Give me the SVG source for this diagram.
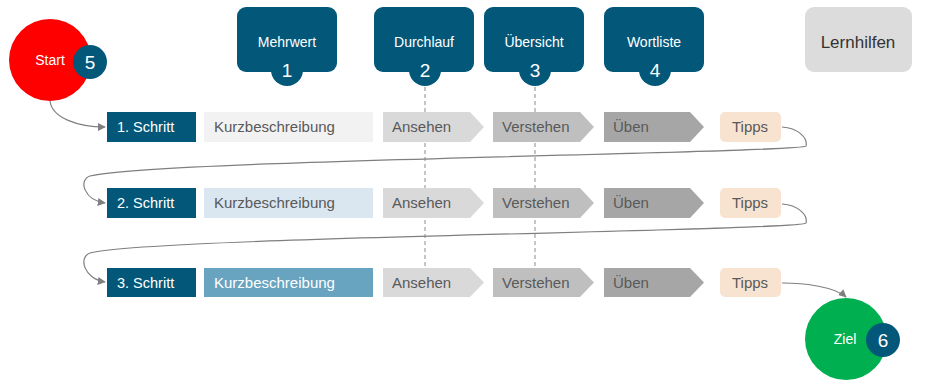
<svg xmlns="http://www.w3.org/2000/svg" width="925" height="391" viewBox="0 0 925 391">
<style>
text{font-family:"Liberation Sans",Arial,sans-serif}
.blue{fill:#03587a}
.wt{fill:#fff;font-size:14px;text-anchor:middle}
.num{fill:#fff;font-size:19px;text-anchor:middle}
.step{fill:#fff;font-size:14.5px}
.gt{fill:#595959;font-size:15px}
.con{fill:none;stroke:#7f7f7f;stroke-width:1.2}
.dash{stroke:#8c8c8c;stroke-width:1;stroke-dasharray:4 3}
</style>
<defs>
<marker id="arr" viewBox="0 0 10 10" refX="9" refY="5" markerWidth="8" markerHeight="8" markerUnits="userSpaceOnUse" orient="auto"><path d="M0,0 L10,5 L0,10 Z" fill="#7f7f7f"/></marker>
</defs>
<g id="dashes">
<line class="dash" x1="425" y1="87" x2="425" y2="268"/>
<line class="dash" x1="535" y1="87" x2="535" y2="268"/>
</g>
<g id="connectors">
<path class="con" d="M50,101 C52,118 78,127 105,127" marker-end="url(#arr)"/>
<path class="con" d="M782,127 C798,128 808,138 806,146 C803,153 150,160 90,176 C78,180 84,200 105,203" marker-end="url(#arr)"/>
<path class="con" d="M782,204 C798,205 808,215 806,223 C803,231 150,237 90,253 C78,257 84,279 105,282" marker-end="url(#arr)"/>
<path class="con" d="M782,283 C805,283 835,287 846,297" marker-end="url(#arr)"/>
</g>
<g id="start">
<circle cx="50" cy="60" r="41" fill="#ff0000"/>
<text class="wt" x="50" y="65">Start</text>
<circle class="blue" cx="90" cy="62" r="17"/>
<text class="num" x="90" y="69">5</text>
</g>
<g id="mehrwert">
<rect class="blue" x="237" y="7" width="100" height="65" rx="9"/>
<circle class="blue" cx="287" cy="70" r="16"/>
<text class="wt" x="287" y="47">Mehrwert</text>
<text class="num" x="287" y="77">1</text>
</g>
<g id="durchlauf">
<rect class="blue" x="374" y="7" width="100" height="65" rx="9"/>
<circle class="blue" cx="425" cy="70" r="16"/>
<text class="wt" x="424" y="47">Durchlauf</text>
<text class="num" x="425" y="77">2</text>
</g>
<g id="uebersicht">
<rect class="blue" x="484" y="7" width="100" height="65" rx="9"/>
<circle class="blue" cx="535" cy="70" r="16"/>
<text class="wt" x="534" y="47">Übersicht</text>
<text class="num" x="535" y="77">3</text>
</g>
<g id="wortliste">
<rect class="blue" x="604" y="7" width="100" height="65" rx="9"/>
<circle class="blue" cx="655" cy="70" r="16"/>
<text class="wt" x="654" y="47">Wortliste</text>
<text class="num" x="655" y="77">4</text>
</g>
<g id="lernhilfen">
<rect x="805" y="7" width="107" height="65" rx="9" fill="#dcdcdc"/>
<text x="858" y="48" font-size="17" fill="#333" text-anchor="middle">Lernhilfen</text>
</g>
<g id="row1">
<rect class="blue" x="107" y="112" width="89" height="30"/>
<text class="step" x="117" y="132">1. Schritt</text>
<rect x="204" y="112" width="169" height="30" fill="#f2f2f2"/>
<text class="gt" x="214" y="132">Kurzbeschreibung</text>
<path d="M383,112 H470 L484,127 L470,142 H383 Z" fill="#d9d9d9"/>
<text class="gt" x="392" y="132">Ansehen</text>
<path d="M493,112 H580 L594,127 L580,142 H493 Z" fill="#bfbfbf"/>
<text class="gt" x="502" y="132">Verstehen</text>
<path d="M604,112 H690 L704,127 L690,142 H604 Z" fill="#a6a6a6"/>
<text class="gt" x="613" y="132">Üben</text>
<rect x="720" y="112" width="61" height="30" rx="5" fill="#f8e3d0"/>
<text class="gt" x="750" y="132" text-anchor="middle">Tipps</text>
</g>
<g id="row2">
<rect class="blue" x="107" y="188" width="89" height="30"/>
<text class="step" x="117" y="208">2. Schritt</text>
<rect x="204" y="188" width="169" height="30" fill="#dae7f1"/>
<text class="gt" x="214" y="208">Kurzbeschreibung</text>
<path d="M383,188 H470 L484,203 L470,218 H383 Z" fill="#d9d9d9"/>
<text class="gt" x="392" y="208">Ansehen</text>
<path d="M493,188 H580 L594,203 L580,218 H493 Z" fill="#bfbfbf"/>
<text class="gt" x="502" y="208">Verstehen</text>
<path d="M604,188 H690 L704,203 L690,218 H604 Z" fill="#a6a6a6"/>
<text class="gt" x="613" y="208">Üben</text>
<rect x="720" y="188" width="61" height="30" rx="5" fill="#f8e3d0"/>
<text class="gt" x="750" y="208" text-anchor="middle">Tipps</text>
</g>
<g id="row3">
<rect class="blue" x="107" y="268" width="89" height="29"/>
<text class="step" x="117" y="288">3. Schritt</text>
<rect x="204" y="268" width="169" height="29" fill="#68a3bf"/>
<text class="gt" x="214" y="288" fill="#fff" style="fill:#fff">Kurzbeschreibung</text>
<path d="M383,268 H470 L484,282.5 L470,297 H383 Z" fill="#d9d9d9"/>
<text class="gt" x="392" y="288">Ansehen</text>
<path d="M493,268 H580 L594,282.5 L580,297 H493 Z" fill="#bfbfbf"/>
<text class="gt" x="502" y="288">Verstehen</text>
<path d="M604,268 H690 L704,282.5 L690,297 H604 Z" fill="#a6a6a6"/>
<text class="gt" x="613" y="288">Üben</text>
<rect x="720" y="268" width="61" height="29" rx="5" fill="#f8e3d0"/>
<text class="gt" x="750" y="288" text-anchor="middle">Tipps</text>
</g>
<g id="ziel">
<circle cx="846" cy="339" r="41" fill="#00b050"/>
<text class="wt" x="845" y="344">Ziel</text>
<circle class="blue" cx="883" cy="340" r="17"/>
<text class="num" x="883" y="347">6</text>
</g>
</svg>
